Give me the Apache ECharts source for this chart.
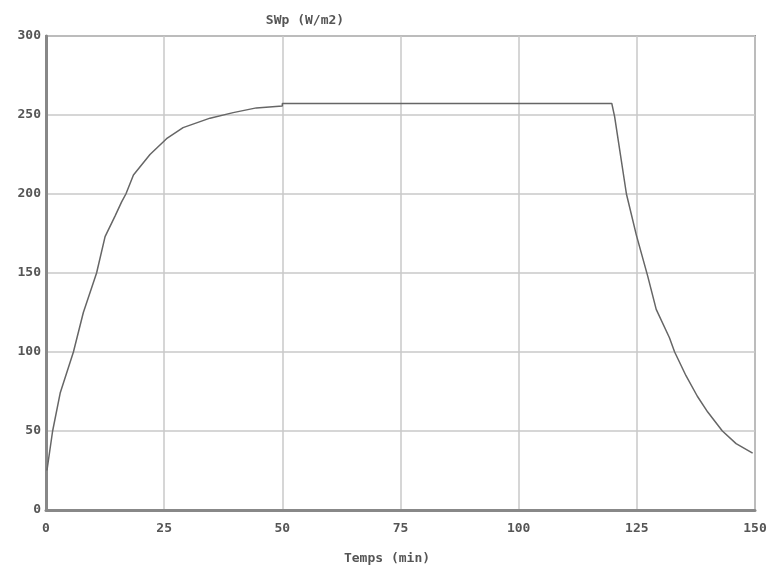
<!DOCTYPE html>
<html>
<head>
<meta charset="utf-8">
<title>SWp</title>
<script src="https://cdn.jsdelivr.net/npm/echarts@6/dist/echarts.min.js"></script>
<style>
  html, body { margin: 0; padding: 0; background: #fff; }
  #chart { width: 779px; height: 572px; }
</style>
</head>
<body>
<div id="chart"></div>
<script>
// temps (min) and SWp (W/m2)
const times = [0.2, 1.4, 3, 5.8, 7.9, 10.7, 12.5, 14.6, 16, 16.9, 18.5, 22, 25.5, 29, 34.7, 39.6, 44.5, 50,
  50, 119.7, 120.3, 122.8, 124.9, 127.3, 129.1, 131.9, 133, 135.4, 137.8, 140, 143.1, 146, 149.5]
const swp = [25, 50, 74, 100, 125, 150, 173, 186, 195, 200, 212, 225, 235, 242, 248, 251.5, 254.5, 255.7,
  257.3, 257.3, 249, 200, 174, 148, 127, 109, 100, 85, 72, 62, 50, 42, 36]
const xTicks = [0, 25, 50, 75, 100, 125, 150]
const yTicks = [0, 50, 100, 150, 200, 250, 300]

const font = 'DejaVu Sans Mono'
const textColor = '#555'

const chart = echarts.init(document.getElementById('chart'))
chart.setOption({
  animation: false,
  backgroundColor: '#fff',
  title: [
    {
      text: 'SWp (W/m2)',
      left: 300,
      top: 9,
      textAlign: 'center',
      textStyle: { fontFamily: font, fontSize: 13, fontWeight: 'bold', color: textColor }
    },
    {
      text: 'Temps (min)',
      left: 382,
      top: 547,
      textAlign: 'center',
      textStyle: { fontFamily: font, fontSize: 13, fontWeight: 'bold', color: textColor }
    }
  ],
  grid: {
    left: 46,
    right: 24,
    top: 36,
    bottom: 62,
    show: true,
    borderColor: '#999',
    borderWidth: 2
  },
  xAxis: {
    type: 'value',
    min: xTicks[0],
    max: xTicks[xTicks.length - 1],
    interval: 25,
    axisLine: { show: true, lineStyle: { color: '#888', width: 3 } },
    axisTick: { show: false },
    axisLabel: {
      margin: 12,
      fontFamily: font,
      fontSize: 13,
      fontWeight: 'bold',
      color: textColor
    },
    splitLine: { show: true, lineStyle: { color: '#c8c8c8', width: 1.5 } }
  },
  yAxis: {
    type: 'value',
    min: yTicks[0],
    max: yTicks[yTicks.length - 1],
    interval: 50,
    axisLine: { show: true, lineStyle: { color: '#888', width: 3 } },
    axisTick: { show: false },
    axisLabel: {
      margin: 5,
      fontFamily: font,
      fontSize: 13,
      fontWeight: 'bold',
      color: textColor
    },
    splitLine: { show: true, lineStyle: { color: '#c8c8c8', width: 1.5 } }
  },
  series: [
    {
      type: 'line',
      symbol: 'none',
      data: times.map((t, i) => [t, swp[i]]),
      lineStyle: { color: '#666', width: 1.5 }
    }
  ]
})
</script>
</body>
</html>
